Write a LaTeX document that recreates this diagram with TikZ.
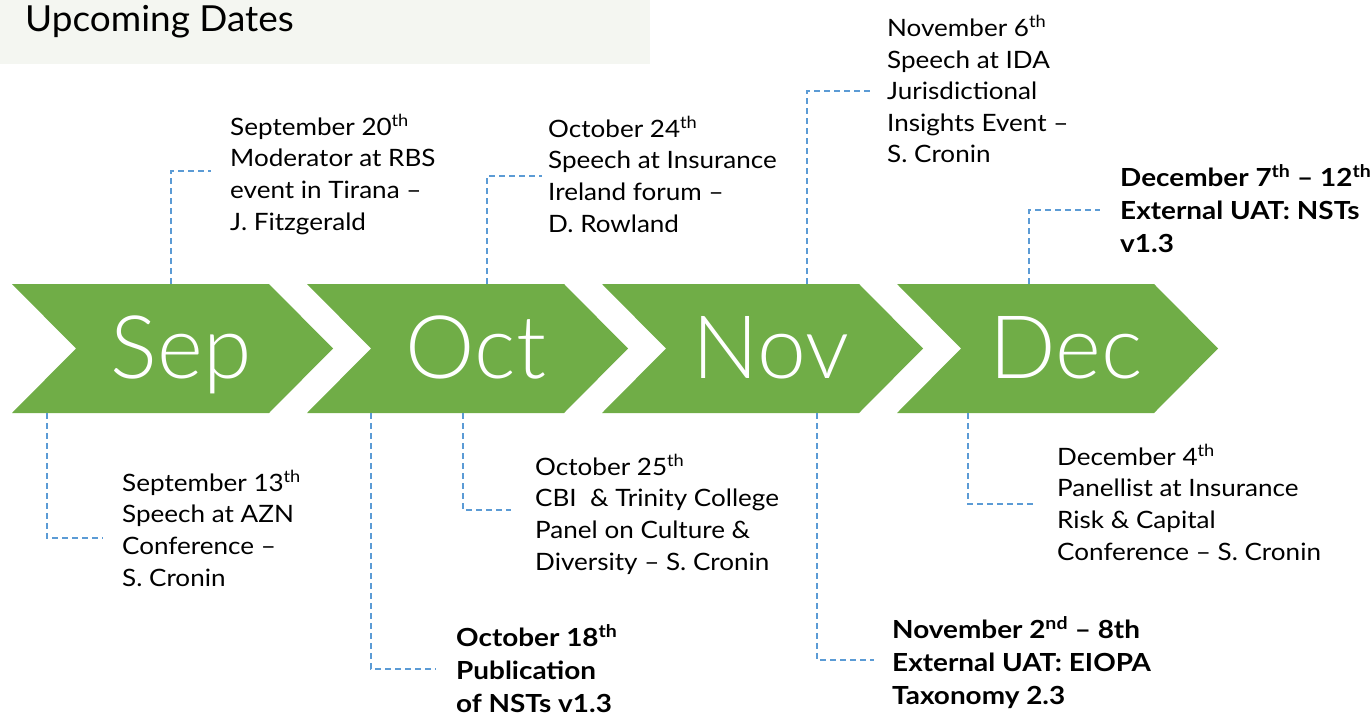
\documentclass[tikz,border=0pt]{standalone}
\usepackage{fontspec}
\setmainfont{Lato}
\newfontfamily\monthfont{Lato}[UprightFont=* Light]
\newfontfamily\eventfont{Lato}[FakeStretch=1.09]
\newfontfamily\keyfont{Lato}[FakeStretch=1.12]
\newfontfamily\titlefont{Lato}[FakeStretch=1.03]
\definecolor{chevgreen}{HTML}{70AD47}
\definecolor{linkblue}{HTML}{5B9BD5}
\definecolor{bandgray}{HTML}{F4F6F1}
\tikzset{
  chev/.style={fill=chevgreen},
  month/.style={text=white, font=\monthfont\fontsize{88}{90}\selectfont, inner sep=0pt, anchor=base},
  % multi-line nodes: the base anchor sits on the last line
  event/.style={anchor=base west, inner sep=0pt, align=left, font=\eventfont\fontsize{24}{31.7}\selectfont},
  keyevent/.style={anchor=base west, inner sep=0pt, align=left, font=\keyfont\bfseries\fontsize{25}{33}\selectfont},
  conn/.style={draw=linkblue, line width=1.4bp, dash pattern=on 6bp off 4bp},
}
\begin{document}
\begin{tikzpicture}[x=1bp, y=-1bp]
\useasboundingbox (0,0) rectangle (1370,715);

% title band
\fill[bandgray] (0,0) rectangle (650,64);
\node[anchor=base west, inner sep=0pt, font=\titlefont\fontsize{36}{40}\selectfont] (title) at (25,32) {Upcoming Dates};

% month chevrons
\foreach \x/\m/\nm in {12/Sep/sep, 307/Oct/oct, 602/Nov/nov, 897/Dec/dec} {
  \fill[chev] (\x,284) -- ++(257,0) -- ++(64,64.5) -- ++(-64,64.5) -- ++(-257,0) -- ++(64,-64.5) -- cycle;
  \node[month] (\nm) at (\x+169,378) {\m};
}

% events above the bar
\node[event] (sep20) at (230,230.1) {September 20\textsuperscript{th}\\Moderator at RBS\\event in Tirana –\\J. Fitzgerald};
\node[event] (oct24) at (548,232.1) {October 24\textsuperscript{th}\\Speech at Insurance\\Ireland forum –\\D. Rowland};
\node[event] (nov6) at (887,162.8) {November 6\textsuperscript{th}\\Speech at IDA\\Jurisdictional\\Insights Event –\\S. Cronin};
\node[keyevent] (dec7) at (1120,252) {December 7\textsuperscript{th} – 12\textsuperscript{th}\\External UAT: NSTs\\v1.3};

% events below the bar
\node[event] (sep13) at (122,586.1) {September 13\textsuperscript{th}\\Speech at AZN\\Conference –\\S. Cronin};
\node[event] (oct25) at (535,570.1) {October 25\textsuperscript{th}\\CBI\ \ \& Trinity College\\Panel on Culture \&\\Diversity – S. Cronin};
\node[keyevent] (oct18) at (456,712) {October 18\textsuperscript{th}\\Publication\\of NSTs v1.3};
\node[keyevent] (nov2) at (892,704) {November 2\textsuperscript{nd} – 8th\\External UAT: EIOPA\\Taxonomy 2.3};
\node[event] (dec4) at (1057,560.1) {December 4\textsuperscript{th}\\Panellist at Insurance\\Risk \& Capital\\Conference – S. Cronin};

% connector end points
\coordinate (sep20a) at (171,284);  \coordinate (sep20b) at (211,171);
\coordinate (oct24a) at (487,284);  \coordinate (oct24b) at (542,176);
\coordinate (nov6a)  at (807,284);  \coordinate (nov6b)  at (873,91);
\coordinate (dec7a)  at (1029,284); \coordinate (dec7b)  at (1100,210);
\coordinate (sep13a) at (47,413);   \coordinate (sep13b) at (103,538);
\coordinate (oct18a) at (371,413);  \coordinate (oct18b) at (436,669);
\coordinate (oct25a) at (463,413);  \coordinate (oct25b) at (511,510);
\coordinate (nov2a)  at (817,413);  \coordinate (nov2b)  at (874,660);
\coordinate (dec4a)  at (968,413);  \coordinate (dec4b)  at (1033,504);

% dashed elbow connectors
\foreach \c in {sep20, oct24, nov6, dec7, sep13, oct18, oct25, nov2, dec4}
  \draw[conn] (\c a) |- (\c b);
\end{tikzpicture}
\end{document}
